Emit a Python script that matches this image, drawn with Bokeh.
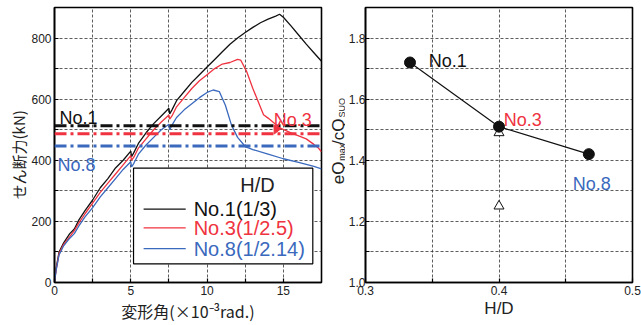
import math
from bokeh.plotting import figure
from bokeh.layouts import row
from bokeh.models import Label, Arrow, NormalHead, FixedTicker, Span, PrintfTickFormatter
from bokeh.embed import file_html
from bokeh.resources import INLINE

# ---------------- data ----------------
no1_x = [0, 0.1, 0.3, 0.6, 1.0, 1.3, 1.6, 2.0, 2.5, 3.0, 3.5, 4.0, 4.5, 5.0, 5.05, 5.2, 5.5, 6.0, 6.5, 7.0,
         7.5, 7.55, 7.7, 8.0, 8.5, 9.0, 9.5, 10.0, 10.5, 11.0, 11.5, 12.0, 12.5, 13.0, 13.5, 14.0, 14.5,
         14.75, 15.0, 15.5, 16.0, 16.5, 17.0, 17.5]
no1_y = [0, 45, 100, 130, 160, 175, 205, 235, 270, 310, 340, 375, 400, 430, 412, 425, 455, 490, 520, 545,
         570, 552, 565, 595, 625, 655, 680, 705, 730, 755, 780, 800, 818, 835, 850, 862, 872,
         878, 868, 840, 810, 780, 752, 724]

no3_x = [0, 0.1, 0.3, 0.6, 1.0, 1.3, 1.6, 2.0, 2.5, 3.0, 3.5, 4.0, 4.5, 5.0, 5.05, 5.2, 5.5, 6.0, 6.5, 7.0,
         7.5, 7.55, 7.7, 8.0, 8.5, 9.0, 9.5, 10.0, 10.5, 11.0, 11.5, 12.0, 12.2, 12.6, 13.0, 13.7, 14.0,
         14.8, 15.5, 16.5, 17.0, 17.3, 17.5]
no3_y = [0, 40, 95, 125, 150, 170, 195, 225, 260, 295, 325, 355, 385, 415, 400, 410, 440, 470, 500, 525,
         548, 535, 545, 575, 605, 635, 660, 680, 700, 715, 720, 730, 728, 690, 635, 549, 538,
         505, 490, 470, 452, 440, 428]

no8_x = [0, 0.1, 0.3, 0.6, 1.0, 1.3, 1.6, 2.0, 2.5, 3.0, 3.5, 4.0, 4.5, 5.0, 5.05, 5.2, 5.5, 6.0, 6.5, 7.0,
         7.5, 7.55, 7.7, 8.0, 8.5, 9.0, 9.5, 10.0, 10.4, 10.8, 11.2, 11.6, 12.0, 12.5, 13.0, 14.0, 15.0,
         16.0, 17.0, 17.5]
no8_y = [0, 38, 90, 120, 145, 160, 185, 215, 245, 280, 310, 340, 370, 395, 378, 390, 420, 450, 475, 500,
         518, 500, 515, 540, 565, 585, 605, 622, 630, 625, 580, 515, 475, 445, 435, 420, 405,
         393, 380, 372]

calc_levels = [513, 487, 447]          # No.1, No.3, No.8 calculated strength (kN)

specimens = ["No.1", "No.3", "No.8"]
legend_labels = ["No.1(1/3)", "No.3(1/2.5)", "No.8(1/2.14)"]
hd = [1 / 3, 1 / 2.5, 1 / 2.14]
ratio = [1.72, 1.51, 1.42]
tri_x = [0.4, 0.4]
tri_y = [1.49, 1.25]

left_xticks = [0, 5, 10, 15]
left_xminor = [2.5, 7.5, 12.5]
left_yticks = [0, 200, 400, 600, 800]
left_yminor = [100, 300, 500, 700]
right_xticks = [0.3, 0.4, 0.5]
right_xminor = [0.35, 0.45]
right_yticks = [1.0, 1.2, 1.4, 1.6, 1.8]
right_yminor = [1.1, 1.3, 1.5, 1.7]

# ---------------- style ----------------
BLACK = "#111111"
RED = "#ef3340"
BLUE = "#3a69bd"
TXT = "#222222"
LATIN = "Liberation Sans"
JP = "Noto Sans CJK JP"
H = 325
TOP, BOTTOM = 7, 38        # frame borders shared by all plots of the row


def style(p):
    p.outline_line_color = "black"
    p.outline_line_width = 1.6
    p.outline_line_alpha = 1
    p.background_fill_color = "white"
    p.border_fill_color = "white"
    for ax in (p.xaxis[0], p.yaxis[0]):
        ax.axis_line_color = "black"
        ax.axis_line_width = 1.6
        ax.major_tick_in = 4
        ax.major_tick_out = 0
        ax.minor_tick_in = 4
        ax.minor_tick_out = 0
        ax.major_tick_line_color = "black"
        ax.minor_tick_line_color = "black"
        ax.major_tick_line_width = 1.2
        ax.minor_tick_line_width = 1.2
        ax.major_label_text_font = LATIN
        ax.major_label_text_font_size = "12px"
        ax.major_label_text_color = TXT
        ax.major_label_standoff = 3
        ax.axis_label_text_color = TXT
        ax.axis_label_text_font_style = "normal"
        ax.axis_label_standoff = 1
    p.grid.grid_line_color = "#333333"
    p.grid.grid_line_dash = "3 2"
    p.grid.grid_line_width = 0.8
    p.grid.minor_grid_line_color = "#333333"
    p.grid.minor_grid_line_dash = "3 2"
    p.grid.minor_grid_line_width = 0.8


def label_strip(w):
    """narrow figure without axes or title; data units = pixels (y = H - y_from_top)"""
    s = figure(width=w, height=H, x_range=(0, w), y_range=(BOTTOM, H - TOP), title=None,
               x_axis_type=None, y_axis_type=None, output_backend="svg",
               toolbar_location=None, min_border_left=0, min_border_right=0,
               min_border_top=TOP, min_border_bottom=BOTTOM)
    s.outline_line_color = None
    s.grid.visible = False
    s.border_fill_color = "white"
    return s


# ---------------- left y-label strip ----------------
s1 = label_strip(28)
s1.add_layout(Label(x=18, y=H - 157, text="せん断力(kN)", angle=math.pi / 2, text_color=TXT,
                    text_font=JP, text_font_size="15px", text_align="center",
                    text_baseline="middle"))

# ---------------- left figure ----------------
p1 = figure(width=302, height=H, x_range=(0, 17.5), y_range=(0, 900),
            output_backend="svg", toolbar_location=None,
            min_border_left=26, min_border_right=9, min_border_top=TOP, min_border_bottom=BOTTOM)
p1.xaxis.ticker = FixedTicker(ticks=left_xticks, minor_ticks=left_xminor)
p1.yaxis.ticker = FixedTicker(ticks=left_yticks, minor_ticks=left_yminor)
style(p1)
p1.xaxis.axis_label = "変形角(×10⁻³rad.)"
p1.xaxis.axis_label_text_font = JP
p1.xaxis.axis_label_text_font_size = "16px"

colors = [BLACK, RED, BLUE]
p1.line(no1_x, no1_y, line_color=BLACK, line_width=1.3)
p1.line(no3_x, no3_y, line_color=RED, line_width=1.3)
p1.line(no8_x, no8_y, line_color=BLUE, line_width=1.3)

for lvl, c in zip(calc_levels, colors):
    p1.add_layout(Span(location=lvl, dimension="width", line_color=c, line_width=3,
                       line_dash="12 4 3 4"))

# specimen labels
for t, xx, yy, c in [(specimens[0], 0.33, 539, BLACK), (specimens[1], 14.37, 532, RED),
                     (specimens[2], 0.2, 384, BLUE)]:
    p1.add_layout(Label(x=xx, y=yy, text=t, text_color=c, text_font=LATIN,
                        text_font_size="18px", text_baseline="alphabetic"))
p1.add_layout(Arrow(end=NormalHead(size=8, fill_color=RED, line_color=RED),
                    x_start=14.8, y_start=528, x_end=14.4, y_end=486,
                    line_color=RED, line_width=1.5))

# legend box
p1.quad(left=5.18, right=16.93, bottom=61, top=374, fill_color="white",
        line_color="black", line_width=1.2)
leg_y = [240, 179, 111]
for lab, c, yy in zip(legend_labels, colors, leg_y):
    p1.line([5.84, 8.6], [yy, yy], line_color=c, line_width=1.3)
    p1.add_layout(Label(x=9.12, y=yy, text=lab, text_color=c, text_font=LATIN,
                        text_font_size="20px", text_baseline="middle"))
p1.add_layout(Label(x=13.3, y=320, text="H/D", text_color=TXT, text_font=LATIN,
                    text_font_size="20px", text_baseline="middle", text_align="center"))

# ---------------- right y-label strip ----------------
s2 = label_strip(15)
# composed y label  eQmax / cQSUO  (x = glyph centre, y given from top of picture)
ylab_parts = [("eQ", 7.5, 187, "17px"), ("max", 11.5, 163, "9px"),
              ("/cQ", 7.5, 147, "17px"), ("SUO", 11.5, 119, "9px")]
for t, xx, yy, fs in ylab_parts:
    s2.add_layout(Label(x=xx, y=H - yy, text=t, angle=math.pi / 2, text_color=TXT,
                        text_font=LATIN, text_font_size=fs, text_align="left",
                        text_baseline="middle"))

# ---------------- right figure ----------------
p2 = figure(width=296, height=H, x_range=(0.3, 0.5), y_range=(1.0, 1.9),
            output_backend="svg", toolbar_location=None,
            min_border_left=20, min_border_right=9, min_border_top=TOP, min_border_bottom=BOTTOM)
p2.xaxis.ticker = FixedTicker(ticks=right_xticks, minor_ticks=right_xminor)
p2.yaxis.ticker = FixedTicker(ticks=right_yticks, minor_ticks=right_yminor)
style(p2)
p2.yaxis.major_label_standoff = 0
p2.xaxis.formatter = PrintfTickFormatter(format="%.1f")
p2.yaxis.formatter = PrintfTickFormatter(format="%.1f")
p2.xaxis.major_label_text_align = "right"
p2.xaxis.axis_label = "H/D"
p2.xaxis.axis_label_text_font = LATIN
p2.xaxis.axis_label_text_font_size = "17px"

p2.line(hd, ratio, line_color=BLACK, line_width=1.2)
p2.scatter(tri_x, tri_y, marker="triangle", size=10, fill_color="white",
           line_color=BLACK, line_width=1)
p2.scatter(hd, ratio, marker="circle", size=11, fill_color=BLACK, line_color=BLACK)

for t, xx, yy, c in [(specimens[0], 0.3473, 1.725, BLACK), (specimens[1], 0.4035, 1.531, RED),
                     (specimens[2], 0.4553, 1.324, BLUE)]:
    p2.add_layout(Label(x=xx, y=yy, text=t, text_color=c, text_font=LATIN,
                        text_font_size="18px", text_baseline="alphabetic"))

layout = row(s1, p1, s2, p2)
open("out.html", "w").write(file_html(layout, INLINE))
